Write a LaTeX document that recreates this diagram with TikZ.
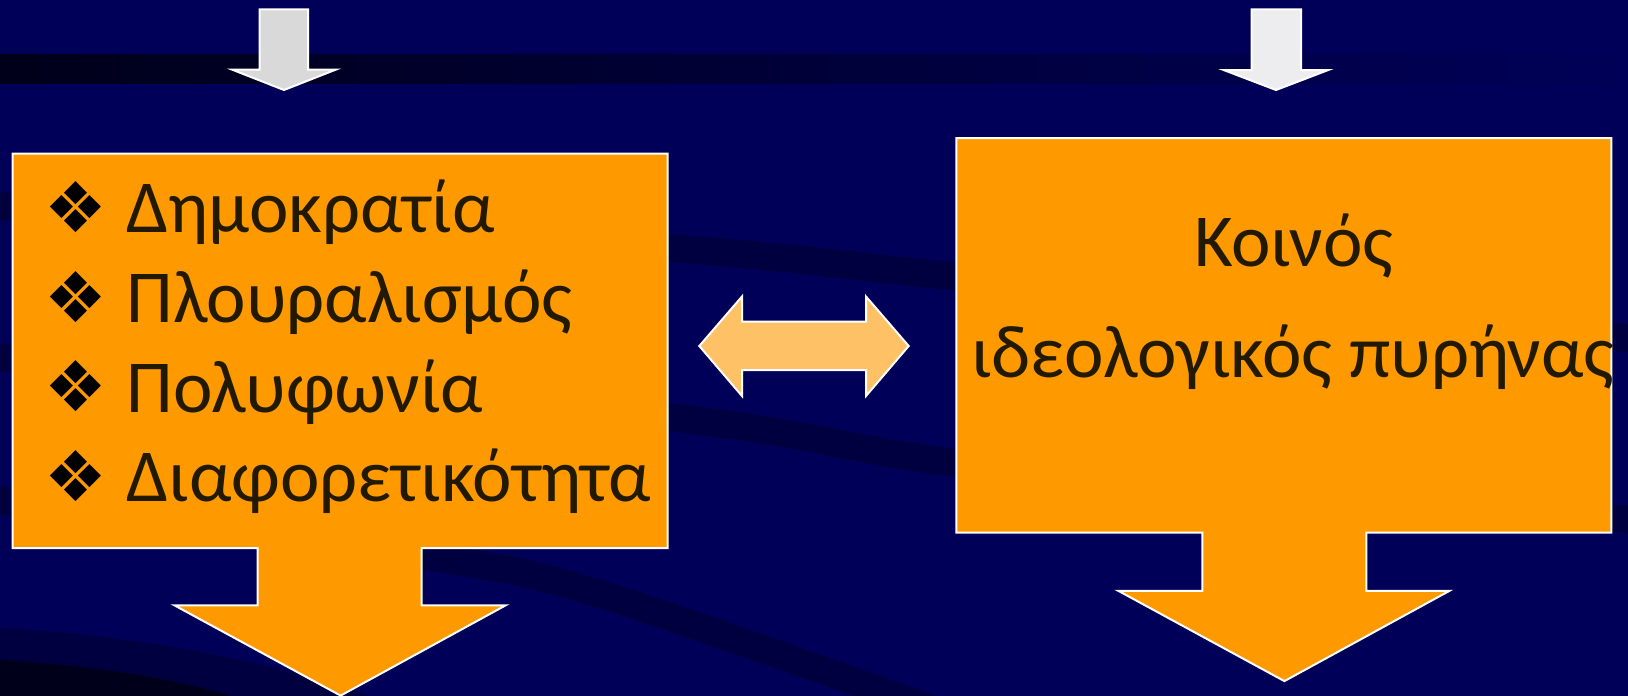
\documentclass[tikz,border=0pt]{standalone}
\usepackage{fontspec}
\setmainfont{Carlito}
\newfontfamily\bulfont{DejaVu Sans}
\definecolor{navy}{RGB}{0,0,88}
\definecolor{bandc}{RGB}{0,0,64}
\definecolor{deepc}{RGB}{0,0,26}
\definecolor{orangebox}{RGB}{255,153,0}
\definecolor{lightorange}{RGB}{255,193,102}
\definecolor{greyA}{RGB}{217,217,217}
\definecolor{greyB}{RGB}{237,237,239}
\definecolor{ink}{RGB}{34,26,0}
\begin{document}
\begin{tikzpicture}[x=0.5pt,y=-0.5pt,
  shapeline/.style={draw=white, line width=1pt, line join=miter},
  txt/.style={inner sep=0pt, text=ink, font=\fontsize{37.4}{45}\selectfont},
  bul/.style={inner sep=0pt, text=black, font=\bulfont\fontsize{35}{40}\selectfont},
  band/.style={draw=bandc, line width=14pt}]
\useasboundingbox (0,0) rectangle (1628,696);
% background
\fill[navy] (0,0) rectangle (1628,696);
\shade[left color=deepc, right color=navy] (0,54) rectangle (1628,83);
\draw[band] plot[smooth] coordinates {(-20,205) (667,248) (940,275) (1300,310) (1650,340)};
\draw[band] plot[smooth] coordinates {(-20,356) (667,417) (940,461) (1300,500) (1650,520)};
\draw[band] plot[smooth] coordinates {(-20,498) (425,556) (600,594) (940,712)};
\fill[bandc] (0,628) .. controls (150,636) and (280,665) .. (370,696) -- (0,696) -- cycle;
\fill[deepc] (0,660) .. controls (100,666) and (180,680) .. (230,696) -- (0,696) -- cycle;
% top grey arrows
\draw[shapeline, fill=greyA] (259.7,9.3) -- (308.2,9.3) -- (308.2,69.7) -- (335.6,69.7) -- (284,90) -- (232.3,69.7) -- (259.7,69.7) -- cycle;
\draw[shapeline, fill=greyB] (1251.5,9.3) -- (1301,9.3) -- (1301,70) -- (1328.3,70) -- (1276,90) -- (1223.6,70) -- (1251.5,70) -- cycle;
% left callout
\draw[shapeline, fill=orangebox] (12.5,153.7) -- (667.6,153.7) -- (667.6,548.2) -- (421.5,548.2) -- (421.5,605.3) -- (505.7,605.3) -- (340.6,695.6) -- (174.4,605.3) -- (257.5,605.3) -- (257.5,548.2) -- (12.5,548.2) -- cycle;
% right callout
\draw[shapeline, fill=orangebox] (956.3,138.1) -- (1611.4,138.1) -- (1611.4,532.6) -- (1366.4,532.6) -- (1366.4,590.8) -- (1449.5,590.8) -- (1284.4,681.1) -- (1118.3,590.8) -- (1202.3,590.8) -- (1202.3,532.6) -- (956.3,532.6) -- cycle;
% double arrow
\draw[shapeline, fill=lightorange] (699.3,346) -- (742,296.5) -- (742,321.7) -- (866,321.7) -- (866,296.5) -- (908.7,346) -- (866,396) -- (866,370) -- (742,370) -- (742,396) -- cycle;
% left texts
\node[bul] (b1) at (75.7,207) {❖};
\node[bul] (b2) at (75.7,296.7) {❖};
\node[bul] (b3) at (75.7,386.4) {❖};
\node[bul] (b4) at (75.7,476) {❖};
\node[txt, anchor=base west] (l1) at (126,232.7) {Δημοκρατία};
\node[txt, anchor=base west] (l2) at (126,322.4) {Πλουραλισμός};
\node[txt, anchor=base west] (l3) at (126,412.1) {Πολυφωνία};
\node[txt, anchor=base west] (l4) at (126,501.7) {Διαφορετικότητα};
% right texts
\node[txt, anchor=base] (r1) at (1294,266) {Κοινός};
\node[txt, anchor=base] (r2) at (1293,377) {ιδεολογικός πυρήνας};
\end{tikzpicture}
\end{document}
